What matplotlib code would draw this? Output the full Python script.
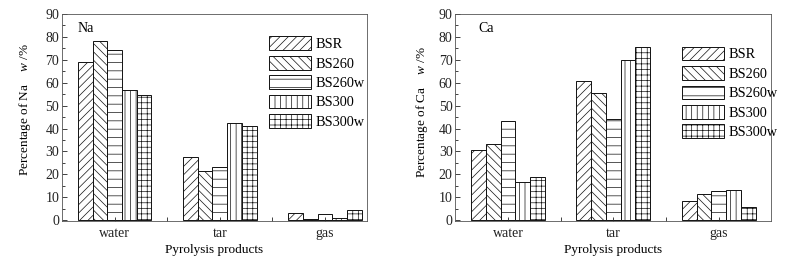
import numpy as np
import matplotlib
matplotlib.use("Agg")
import matplotlib.pyplot as plt

plt.rcParams['font.family'] = ['Liberation Serif', 'DejaVu Serif']
plt.rcParams['mathtext.fontset'] = 'custom'
plt.rcParams['mathtext.it'] = 'Liberation Serif:italic'
plt.rcParams['hatch.linewidth'] = 0.5

products = ['water', 'tar', 'gas']
samples = ['BSR', 'BS260', 'BS260w', 'BS300', 'BS300w']
hatches = ['////', '\\\\\\\\', '--', '|||', '+++']

# rows = samples, cols = products
na_vals = [[69.0, 27.7, 3.2],
           [78.3, 21.5, 0.5],
           [74.2, 23.2, 2.8],
           [57.0, 42.5, 0.9],
           [54.8, 41.2, 4.3]]
ca_vals = [[30.6, 60.8, 8.5],
           [33.2, 55.5, 11.3],
           [43.3, 44.2, 12.7],
           [16.7, 70.0, 13.2],
           [18.9, 75.5, 5.8]]

fig = plt.figure(figsize=(7.96, 2.6), dpi=100)
ax1 = fig.add_axes([0.078, 0.150, 0.383, 0.796])
ax2 = fig.add_axes([0.572, 0.150, 0.397, 0.796])

w = 0.14
x = np.arange(1, 4)

def draw(ax, vals, elem, xlim, leg_anchor, txt_pos, lab_pos):
    for i, s in enumerate(samples):
        ax.bar(x + (i - 2) * w, vals[i], w, facecolor='white', edgecolor='#111111',
               linewidth=0.7, hatch=hatches[i], label=s)
    ax.set_xlim(*xlim)
    ax.set_ylim(-0.4, 90)
    ax.set_yticks(np.arange(0, 91, 10))
    ax.set_yticks(np.arange(5, 90, 10), minor=True)
    ax.set_xticks(x)
    ax.set_xticklabels(products)
    ax.set_xticks([1.5, 2.5], minor=True)
    ax.tick_params(axis='both', which='both', direction='in', labelsize=10,
                   top=False, right=False, width=0.6, colors='#222222')
    ax.tick_params(axis='x', which='major', length=3, pad=4)
    ax.tick_params(axis='x', which='minor', length=3)
    ax.tick_params(axis='y', which='major', length=3.5, pad=2)
    ax.tick_params(axis='y', which='minor', length=2)
    for sp in ax.spines.values():
        sp.set_linewidth(0.6)
        sp.set_color('#555555')
    ax.set_xlabel('Pyrolysis products', fontsize=9.5, labelpad=3)
    ax.set_ylabel('Percentage of ' + elem + '    $w$ /%', fontsize=9.5)
    ax.yaxis.set_label_coords(*lab_pos)
    ax.text(txt_pos[0], txt_pos[1], elem, fontsize=10, ha='left', va='top')
    ax.legend(loc='upper left', bbox_to_anchor=leg_anchor, frameon=False,
              fontsize=10.3, handlelength=2.9, handleheight=1.1,
              labelspacing=0.33, handletextpad=0.35, borderaxespad=0)

draw(ax1, na_vals, 'Na', (0.5, 3.4), (0.66, 0.92), (0.65, 86.5), (-0.097, 0.539))
draw(ax2, ca_vals, 'Ca', (0.5, 3.5), (0.70, 0.87), (0.72, 86.5), (-0.081, 0.527))

fig.savefig('out.png', dpi=100)
